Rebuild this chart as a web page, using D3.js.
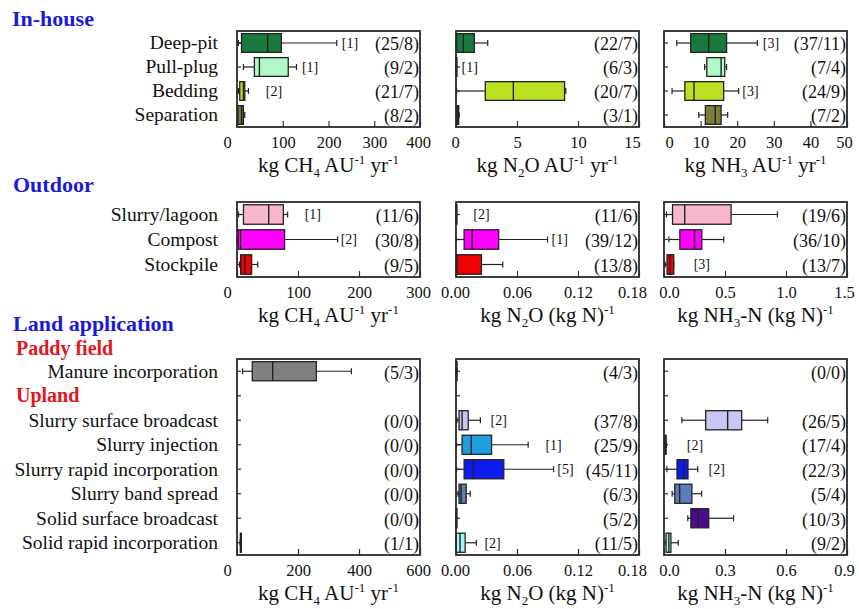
<!DOCTYPE html>
<html>
<head>
<meta charset="utf-8">
<script src="https://cdn.jsdelivr.net/npm/d3@7"></script>
<style>
  body { margin: 0; background: #fff; }
  svg { display: block; }
  text { font-family: "Liberation Serif", "Times New Roman", serif; fill: #111; }
</style>
</head>
<body>
<svg id="chart" width="859" height="609"></svg>
<script>
// ---- data: [low whisker, q1, median, q3, high whisker] ----
const inhouseCats = ["Deep-pit", "Pull-plug", "Bedding", "Separation"];
const inhouseColors = ["#17793d", "#b3f7c9", "#b9e021", "#7f7d38"];
const inhouseCH4 = [[3, 10, 67, 97, 218], [14, 38, 49, 112, 130], [3, 6, 14, 17, 25], [1, 2, 10, 14, 17]];
const inhouseN2O = [[0, 0.05, 0.6, 1.5, 2.6], [0, 0, 0.01, 0.02, 0.03], [0.05, 2.4, 4.7, 8.9, 9.0], [0.05, 0.08, 0.15, 0.22, 0.25]];
const inhouseNH3 = [[3.5, 7.3, 12.2, 17.1, 25.5], [11.1, 11.7, 15.6, 16.6, 17.1], [2.2, 5.7, 8.2, 16.3, 20.4], [9.5, 11.3, 14.0, 15.6, 17.4]];
const inhouseCH4N = ["(25/8)", "(9/2)", "(21/7)", "(8/2)"];
const inhouseN2ON = ["(22/7)", "(6/3)", "(20/7)", "(3/1)"];
const inhouseNH3N = ["(37/11)", "(7/4)", "(24/9)", "(7/2)"];
const inhouseCH4Notes = [["[1]", 229], ["[1]", 142], ["[2]", 63], null];
const inhouseN2ONotes = [null, ["[1]", 0.45], null, null];
const inhouseNH3Notes = [["[3]", 27], null, ["[3]", 21.4], null];

const outdoorCats = ["Slurry/lagoon", "Compost", "Stockpile"];
const outdoorColors = ["#f8b8cb", "#ff00ff", "#f00000"];
const outdoorCH4 = [[2.5, 10.6, 52, 76, 83], [0, 2, 6, 78, 165], [4, 6, 13, 24, 34]];
const outdoorN2O = [[0, 0, 0.0002, 0.0004, 0.0006], [0, 0.008, 0.016, 0.042, 0.09], [0, 0.0005, 0.001, 0.025, 0.046]];
const outdoorNH3 = [[0.02, 0.07, 0.17, 0.55, 0.93], [0.04, 0.13, 0.25, 0.31, 0.49], [0.01, 0.025, 0.05, 0.08, 0.08]];
const outdoorCH4N = ["(11/6)", "(30/8)", "(9/5)"];
const outdoorN2ON = ["(11/6)", "(39/12)", "(13/8)"];
const outdoorNH3N = ["(19/6)", "(36/10)", "(13/7)"];
const outdoorCH4Notes = [["[1]", 111], ["[2]", 170], null];
const outdoorN2ONotes = [["[2]", 0.017], ["[1]", 0.094], null];
const outdoorNH3Notes = [null, null, ["[3]", 0.243]];

const landCats = ["Manure incorporation", "", "Slurry surface broadcast", "Slurry injection",
  "Slurry rapid incorporation", "Slurry band spread", "Solid surface broadcast", "Solid rapid incorporation"];
const landColors = ["#808080", null, "#c8c8f4", "#1f9fe0", "#0c1cef", "#5c7db8", "#4a0c8e", "#a6f6f6"];
const landCH4 = [[18, 50, 117, 260, 375], null, null, null, null, null, null, [10, 11, 12, 13, 14]];
const landN2O = [[0, 0, 0.0005, 0.001, 0.001], null, [0.001, 0.003, 0.006, 0.012, 0.024],
  [0.0005, 0.006, 0.015, 0.035, 0.071], [0.0005, 0.008, 0.017, 0.047, 0.096],
  [0.002, 0.003, 0.005, 0.01, 0.014], [0, 0, 0.0002, 0.0004, 0.0006], [0, 0, 0.004, 0.009, 0.02]];
const landNH3 = [null, null, [0.088, 0.205, 0.313, 0.382, 0.51], [0.004, 0.005, 0.008, 0.01, 0.012],
  [0.014, 0.064, 0.098, 0.118, 0.166], [0.04, 0.053, 0.077, 0.137, 0.185],
  [0.117, 0.132, 0.166, 0.22, 0.342], [0.01, 0.01, 0.024, 0.034, 0.07]];
const landCH4N = ["(5/3)", "", "(0/0)", "(0/0)", "(0/0)", "(0/0)", "(0/0)", "(1/1)"];
const landN2ON = ["(4/3)", "", "(37/8)", "(25/9)", "(45/11)", "(6/3)", "(5/2)", "(11/5)"];
const landNH3N = ["(0/0)", "", "(26/5)", "(17/4)", "(22/3)", "(5/4)", "(10/3)", "(9/2)"];
const landCH4Notes = [null, null, null, null, null, null, null, null];
const landN2ONotes = [null, null, ["[2]", 0.034], ["[1]", 0.088], ["[5]", 0.0996], null, null, ["[2]", 0.028]];
const landNH3Notes = [null, null, null, ["[2]", 0.112], ["[2]", 0.219], null, null, null];

const ticksCH4a = [0, 100, 200, 300, 400];
const ticksN2Oa = [0, 5, 10, 15];
const ticksNH3a = [0, 10, 20, 30, 40, 50];
const ticksCH4b = [0, 100, 200, 300];
const ticksN2Ob = [0, 0.06, 0.12, 0.18];
const ticksNH3b = [0, 0.5, 1.0, 1.5];
const ticksCH4c = [0, 200, 400, 600];
const ticksNH3c = [0, 0.3, 0.6, 0.9];

const titleCH4 = [["kg CH", "n"], ["4", "sub"], [" AU", "n"], ["-1", "sup"], [" yr", "n"], ["-1", "sup"]];
const titleN2Oa = [["kg N", "n"], ["2", "sub"], ["O AU", "n"], ["-1", "sup"], [" yr", "n"], ["-1", "sup"]];
const titleNH3a = [["kg NH", "n"], ["3", "sub"], [" AU", "n"], ["-1", "sup"], [" yr", "n"], ["-1", "sup"]];
const titleN2Ob = [["kg N", "n"], ["2", "sub"], ["O (kg N)", "n"], ["-1", "sup"]];
const titleNH3b = [["kg NH", "n"], ["3", "sub"], ["-N (kg N)", "n"], ["-1", "sup"]];

// ---- layout ----
const svg = d3.select("#chart");
const panelLeft = [237, 456, 664];
const panelW = 183;
// horizontal nudge of the first / last tick label in each column
const labelNudge = [[-10, -2], [-1, -7], [5, -3]];
const blue = "#1c1ad6", red = "#e3151f";

function addTitle(parts, x, y) {
  const t = svg.append("text").attr("x", x).attr("y", y)
    .attr("text-anchor", "middle").attr("font-size", 21);
  let cur = 0;
  parts.forEach(([s, m]) => {
    const shift = m === "sub" ? 5 : m === "sup" ? -8 : 0;
    t.append("tspan").attr("dy", shift - cur)
      .attr("font-size", m === "n" ? 21 : 13).text(s);
    cur = shift;
  });
}

function drawSection(cats, colors, top, bottom, panels) {
  const y = d3.scaleBand().domain(d3.range(cats.length)).range([top, bottom]).padding(0);
  const bh = y.bandwidth() * 0.78;

  panels.forEach((p, pi) => {
    const left = panelLeft[pi];
    const x = d3.scaleLinear().domain([0, p.ticks[p.ticks.length - 1]]).range([left, left + panelW]);
    const g = svg.append("g");

    // x axis, ticks inward
    const xa = g.append("g").attr("transform", `translate(0,${bottom})`)
      .call(d3.axisBottom(x).tickValues(p.ticks).tickFormat(d3.format(p.fmt))
        .tickSizeInner(-6).tickSizeOuter(0).tickPadding(9));
    xa.select(".domain").remove();
    xa.selectAll("line").attr("stroke", "#333").attr("stroke-width", 1.2);
    const last = p.ticks.length - 1;
    xa.selectAll("text").attr("font-size", 16.5).attr("fill", "#111")
      .attr("dx", (d, i) => i === 0 ? labelNudge[pi][0] : i === last ? labelNudge[pi][1] : 0);

    // y axis, ticks inward; category labels only on first column
    const ya = g.append("g").attr("transform", `translate(${left},0)`)
      .call(d3.axisLeft(y).tickSizeInner(-4).tickSizeOuter(0).tickPadding(19)
        .tickFormat(i => pi === 0 ? cats[i] : ""));
    ya.select(".domain").remove();
    ya.selectAll("line").attr("stroke", "#333").attr("stroke-width", 1.2);
    ya.selectAll("text").attr("font-size", 19.5).attr("fill", "#111");

    const rows = p.data.map((d, i) => ({ d, i })).filter(o => o.d);
    const cy = o => y(o.i) + y.bandwidth() / 2;
    const bg = g.selectAll("g.box").data(rows).join("g").attr("class", "box");

    bg.append("line").attr("x1", o => x(o.d[0])).attr("x2", o => x(o.d[1]))
      .attr("y1", cy).attr("y2", cy).attr("stroke", "#222").attr("stroke-width", 1.2);
    bg.append("line").attr("x1", o => x(o.d[3])).attr("x2", o => x(o.d[4]))
      .attr("y1", cy).attr("y2", cy).attr("stroke", "#222").attr("stroke-width", 1.2);
    [0, 4].forEach(k => {
      bg.append("line").attr("x1", o => x(o.d[k])).attr("x2", o => x(o.d[k]))
        .attr("y1", o => cy(o) - 3).attr("y2", o => cy(o) + 3)
        .attr("stroke", "#222").attr("stroke-width", 1.2);
    });
    bg.append("rect")
      .attr("x", o => x(o.d[1])).attr("width", o => Math.max(1, x(o.d[3]) - x(o.d[1])))
      .attr("y", o => cy(o) - bh / 2).attr("height", bh)
      .attr("fill", o => colors[o.i]).attr("stroke", "#222").attr("stroke-width", 1.3);
    bg.append("line").attr("x1", o => x(o.d[2])).attr("x2", o => x(o.d[2]))
      .attr("y1", o => cy(o) - bh / 2).attr("y2", o => cy(o) + bh / 2)
      .attr("stroke", "#222").attr("stroke-width", 1.4);

    // outlier counts
    g.selectAll("text.note").data(p.notes.map((d, i) => ({ d, i })).filter(o => o.d)).join("text")
      .attr("class", "note")
      .attr("x", o => x(o.d[1])).attr("y", o => y(o.i) + y.bandwidth() / 2)
      .attr("dy", "0.35em").attr("font-size", 14).text(o => o.d[0]);

    // sample sizes
    g.selectAll("text.nn").data(p.n.map((d, i) => ({ d, i }))).join("text")
      .attr("class", "nn")
      .attr("x", left + panelW - 1).attr("y", o => y(o.i) + y.bandwidth() / 2 + 1)
      .attr("dy", "0.35em").attr("text-anchor", "end").attr("font-size", 18).text(o => o.d);

    // frame
    g.append("rect").attr("x", left).attr("y", top).attr("width", panelW).attr("height", bottom - top)
      .attr("fill", "none").attr("stroke", "#2a2a2a").attr("stroke-width", 1.8);

    addTitle(p.title, left + panelW / 2, bottom + 45);
  });
  return y;
}

drawSection(inhouseCats, inhouseColors, 31, 127, [
  { data: inhouseCH4, n: inhouseCH4N, notes: inhouseCH4Notes, ticks: ticksCH4a, fmt: "d", title: titleCH4 },
  { data: inhouseN2O, n: inhouseN2ON, notes: inhouseN2ONotes, ticks: ticksN2Oa, fmt: "d", title: titleN2Oa },
  { data: inhouseNH3, n: inhouseNH3N, notes: inhouseNH3Notes, ticks: ticksNH3a, fmt: "d", title: titleNH3a }
]);

drawSection(outdoorCats, outdoorColors, 202, 277, [
  { data: outdoorCH4, n: outdoorCH4N, notes: outdoorCH4Notes, ticks: ticksCH4b, fmt: "d", title: titleCH4 },
  { data: outdoorN2O, n: outdoorN2ON, notes: outdoorN2ONotes, ticks: ticksN2Ob, fmt: ".2f", title: titleN2Ob },
  { data: outdoorNH3, n: outdoorNH3N, notes: outdoorNH3Notes, ticks: ticksNH3b, fmt: ".1f", title: titleNH3b }
]);

const yLand = drawSection(landCats, landColors, 359, 555, [
  { data: landCH4, n: landCH4N, notes: landCH4Notes, ticks: ticksCH4c, fmt: "d", title: titleCH4 },
  { data: landN2O, n: landN2ON, notes: landN2ONotes, ticks: ticksN2Ob, fmt: ".2f", title: titleN2Ob },
  { data: landNH3, n: landNH3N, notes: landNH3Notes, ticks: ticksNH3c, fmt: ".1f", title: titleNH3b }
]);

// section headings
const head = (txt, x, y, size, color) => svg.append("text").attr("x", x).attr("y", y)
  .attr("font-size", size).attr("font-weight", "bold").style("fill", color).text(txt);
head("In-house", 12, 26, 22, blue);
head("Outdoor", 13, 192, 22, blue);
head("Land application", 13, 331, 22, blue);
head("Paddy field", 16, 355, 20, red);
head("Upland", 16, yLand(1) + yLand.bandwidth() / 2 + 6, 20, red);
</script>
</body>
</html>
